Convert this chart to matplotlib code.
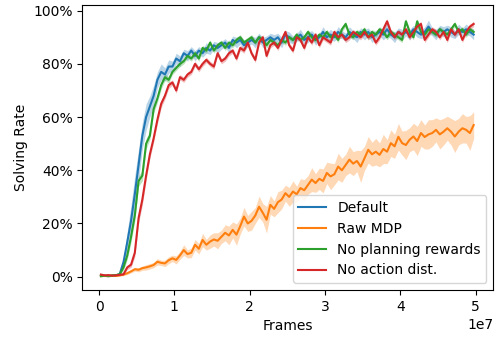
import numpy as np
import matplotlib
matplotlib.use("Agg")
import matplotlib.pyplot as plt
from matplotlib.ticker import PercentFormatter

# frames (one point every 5e5 frames)
frames = np.arange(100) * 0.5e6 + 0.25e6

# solving rate in %
default = [0.5, 0.3, 0.2, 0.3, 0.5, 1.0, 5.5, 13, 21, 31,
           42, 53, 60, 64, 68, 74, 77, 76, 79, 79,
           82, 81, 84, 83, 85, 83, 85, 84, 86, 85,
           87, 86, 87, 88, 86, 89, 88, 89, 87, 88,
           89, 88, 90, 88, 89, 90, 89, 90, 88, 91,
           90, 89, 90, 91, 89, 90, 91, 89, 90, 92,
           90, 91, 90, 92, 91, 90, 92, 91, 90, 92,
           91, 92, 90, 91, 92, 91, 93, 91, 90, 92,
           91, 92, 91, 93, 92, 91, 92, 94, 92, 91,
           93, 92, 93, 92, 91, 93, 92, 93, 92, 91]
default_std = [0.3, 0.2, 0.2, 0.2, 0.3, 0.5, 2, 4, 6, 7,
               6, 5, 5, 4, 4, 3, 3, 2.5, 2.5, 2,
               2, 2, 1.5, 2, 1.5, 2, 1.5, 1.5, 2, 1.5,
               1.5, 2, 1.5, 1.5, 2, 1.5, 2, 1.5, 2, 1.5,
               1.5, 2, 1.5, 2, 1.5, 1.5, 2, 1.5, 2, 1.5,
               2, 1.5, 1.5, 2, 1.5, 2, 1.5, 2, 1.5, 2,
               1.5, 2, 1.5, 2, 1.5, 1.5, 2, 1.5, 2, 1.5,
               2, 1.5, 2, 1.5, 1.5, 2, 2.5, 1.5, 2, 1.5,
               2, 1.5, 2, 1.5, 2, 1.5, 2, 2.5, 1.5, 2,
               1.5, 2, 1.5, 2, 1.5, 2, 1.5, 2, 1.5, 2]

raw_mdp = [0.2, 0.3, 0.2, 0.4, 0.3, 0.5, 0.8, 1.3, 2.0, 2.8,
           2.6, 3.2, 3.5, 3.9, 4.4, 5.6, 5.2, 5.0, 6.2, 6.9,
           6.3, 8.0, 10, 8.5, 9.0, 12, 10.5, 13.8, 12, 13.2,
           14, 13.5, 15, 16.5, 15.5, 17.6, 15.8, 19, 22.6, 20,
           21, 23, 26.3, 24, 21.4, 27, 25.5, 28, 29, 31.4,
           30, 32, 31, 33.3, 32.5, 34.5, 36.5, 35.2, 36.8, 36,
           39, 37.7, 38.5, 41.4, 40, 42, 44, 42.5, 43.5, 41.4,
           44.5, 47.7, 46, 47, 45.8, 48, 47, 50.2, 49, 52.6,
           50.2, 49.5, 51.5, 52.7, 51, 54, 52.5, 53.5, 54, 55.2,
           53.5, 54.5, 55.8, 54.5, 52.7, 54.5, 55.8, 55.2, 54, 57]
raw_mdp_std = [0.2, 0.2, 0.2, 0.2, 0.2, 0.3, 0.4, 0.5, 0.6, 0.7,
               0.8, 0.8, 1, 1, 1, 1.2, 1, 1.2, 1.3, 1.2,
               1.5, 1.5, 2, 1.5, 1.8, 2, 2, 2.5, 2, 2.5,
               2.5, 3, 2.5, 3, 3.5, 3, 4, 3, 3.5, 3,
               3.5, 3, 4, 3.5, 5, 3.5, 3, 4, 3.5, 3,
               3.5, 4, 3, 3.5, 4, 3.5, 4.5, 3.5, 4, 4.5,
               4, 5, 4, 5, 4.5, 4, 5, 4.5, 4, 6,
               4.5, 5, 4.5, 5, 4.5, 5.5, 4.5, 5, 4.5, 5,
               4.5, 5.5, 4.5, 5, 5.5, 5, 4.5, 5.5, 5, 4.5,
               5.5, 5, 4.5, 5, 6, 5, 5.5, 5, 6.5, 5]

no_planning = [0.2, 0.4, 0.3, 0.5, 0.6, 0.9, 3.5, 8, 15, 23,
               36, 38, 50, 53, 63, 67, 72, 75, 74, 77,
               78.5, 80, 81, 83, 82, 84, 82, 86, 85, 88,
               85, 87, 88, 86, 88, 87, 89, 90, 88, 89,
               90, 88, 90, 89, 87, 89, 88, 87, 89, 88,
               90, 89, 91, 89, 90, 92, 90, 89, 91, 90,
               92, 90, 91, 89, 93, 95, 91, 90, 92, 91,
               93, 90, 92, 91, 93, 92, 90, 92, 91, 90,
               89, 96, 92, 90, 96, 92, 91, 93, 92, 91,
               93, 92, 91, 93, 95, 92, 93, 91, 93, 92]
no_planning_std = [0.2, 0.2, 0.2, 0.2, 0.3, 0.4, 1, 1.5, 2, 2,
                   2, 2, 2, 1.5, 1.5, 1.5, 1.5, 1.2, 1.2, 1,
                   1, 1, 1, 1, 1, 1, 1, 1, 1, 1,
                   1, 1, 1, 1, 1, 1, 1, 1, 1, 1,
                   1, 1, 1, 1, 1, 1, 1, 1, 1, 1,
                   1, 1, 1, 1, 1, 1, 1, 1, 1, 1,
                   1, 1, 1, 1, 1, 1, 1, 1, 1, 1,
                   1, 1, 1, 1, 1, 1, 1, 1, 1, 1,
                   1, 1, 1, 1, 1, 1, 1, 1, 1, 1,
                   1, 1, 1, 1, 1, 1, 1, 1, 1, 1]

no_action_dist = [0.8, 0.5, 0.6, 0.4, 0.5, 0.7, 0.9, 3.5, 4.5, 9,
                  22, 29, 38, 46, 52, 59, 65, 68, 72, 73,
                  70, 75, 74, 76, 77, 80, 78, 80, 81.5, 80,
                  79, 84, 81, 82, 84, 85, 82, 86, 85, 88,
                  84, 81.5, 88, 90, 83, 87, 88, 86, 89, 92,
                  87, 85, 90, 89, 86, 90, 88, 91, 87, 90,
                  89, 88, 92, 90, 91, 89, 90, 92, 91, 90,
                  92, 90, 91, 88, 90, 93, 96, 92, 90, 92,
                  91, 93, 90, 92, 94, 95, 89, 91, 93, 92,
                  90, 92, 89, 93, 91, 93, 89, 92, 94, 95]
no_action_dist_std = [0.2, 0.2, 0.2, 0.2, 0.2, 0.3, 0.3, 0.8, 1, 1.5,
                      2, 2, 2, 1.5, 1.5, 1.5, 1.5, 1.2, 1.2, 1,
                      1, 1, 1, 1, 1, 1, 1, 1, 1, 1,
                      1, 1, 1, 1, 1, 1, 1, 1, 1, 1,
                      1, 1, 1, 1, 1, 1, 1, 1, 1, 1,
                      1, 1, 1, 1, 1, 1, 1, 1, 1, 1,
                      1, 1, 1, 1, 1, 1, 1, 1, 1, 1,
                      1, 1, 1, 1, 1, 1, 1, 1, 1, 1,
                      1, 1, 1, 1, 1, 1, 1, 1, 1, 1,
                      1, 1, 1, 1, 1, 1, 1, 1, 1, 1]

labels = ["Default", "Raw MDP", "No planning rewards", "No action dist."]
colors = ["tab:blue", "tab:orange", "tab:green", "tab:red"]
means = [default, raw_mdp, no_planning, no_action_dist]
stds = [default_std, raw_mdp_std, no_planning_std, no_action_dist_std]

fig = plt.figure(figsize=(4.95, 3.37), dpi=100)
ax = fig.add_axes([0.1663, 0.1395, 0.8303, 0.8466])

for m, s, c, lab in zip(means, stds, colors, labels):
    m = np.array(m)
    s = np.array(s)
    ax.fill_between(frames, m - s, m + s, color=c, alpha=0.3, linewidth=0)
    ax.plot(frames, m, color=c, linewidth=1.5, label=lab)

ax.set_xlim(-0.222e7, 5.236e7)
ax.set_ylim(-5.0, 102.25)
ax.set_yticks([0, 20, 40, 60, 80, 100])
ax.yaxis.set_major_formatter(PercentFormatter(xmax=100, decimals=0))

ax.set_xlabel("Frames")
ax.set_ylabel("Solving Rate")
ax.legend(loc="lower right")

fig.savefig("out.png", dpi=100)
